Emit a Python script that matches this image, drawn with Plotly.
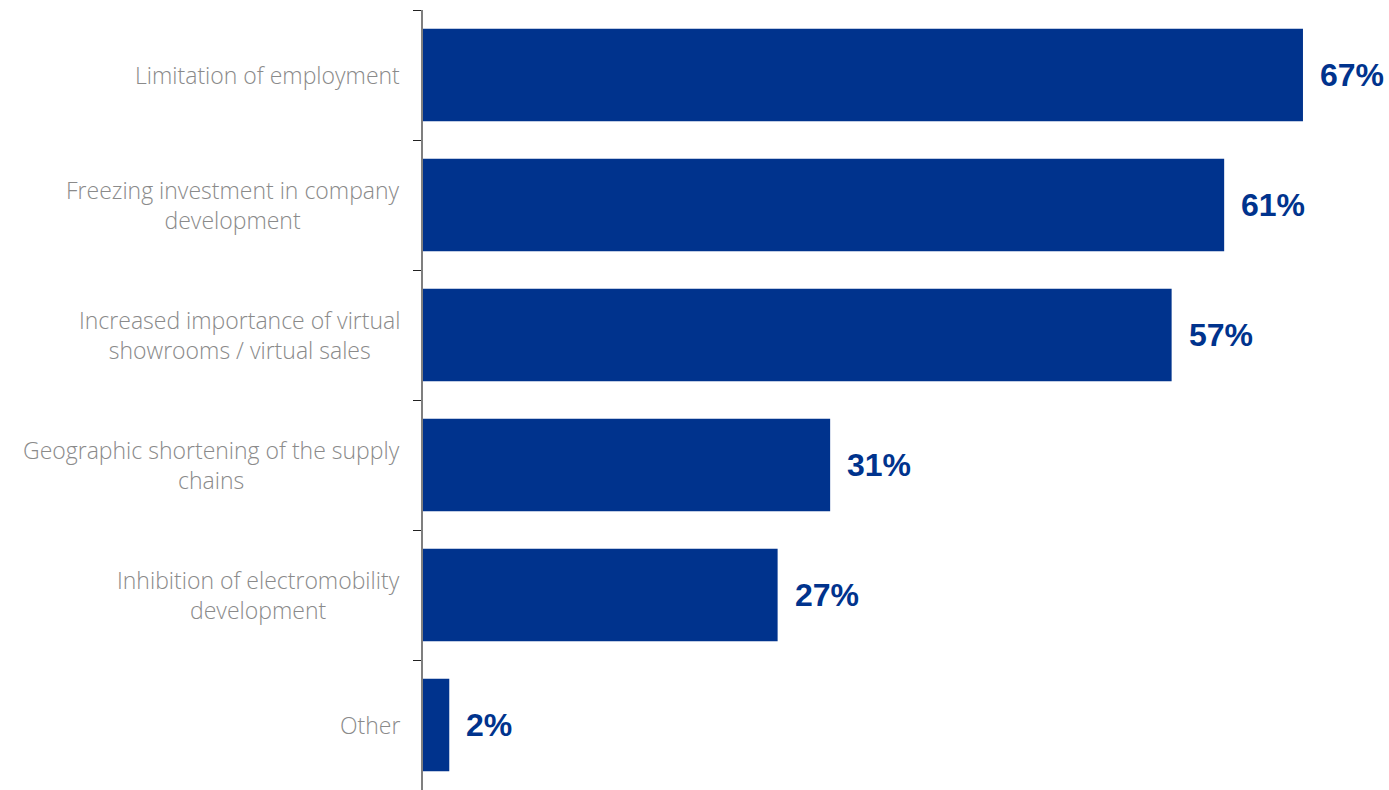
import plotly.graph_objects as go

categories = [
    "Limitation of employment",
    "Freezing investment in company<br>development",
    "Increased importance of virtual<br>showrooms / virtual sales",
    "Geographic shortening of the supply<br>chains",
    "Inhibition of electromobility<br>development",
    "Other",
]
values = [67, 61, 57, 31, 27, 2]
value_labels = ["67%", "61%", "57%", "31%", "27%", "2%"]

BLUE = "#00338D"

fig = go.Figure(go.Bar(
    x=values, y=categories, orientation="h",
    marker=dict(color=BLUE, line=dict(width=0)),
    hoverinfo="skip",
))

annotations = []
for c, v, t in zip(categories, values, value_labels):
    annotations.append(dict(
        x=v, y=c, xref="x", yref="y", text=t, showarrow=False,
        xanchor="left", yanchor="middle", xshift=15,
        font=dict(family="Liberation Sans, Arial, sans-serif", size=32, color=BLUE, weight="bold"),
    ))
    annotations.append(dict(
        x=0, y=c, xref="paper", yref="y", text=c, showarrow=False,
        xanchor="right", yanchor="middle", xshift=-21, align="center",
        font=dict(family="Open Sans, sans-serif", size=23, color="#8a8a8a", weight=300),
    ))

fig.update_layout(
    width=1389, height=790,
    margin=dict(l=423, r=0, t=10, b=0),
    paper_bgcolor="white", plot_bgcolor="white",
    bargap=0.29,
    showlegend=False,
    annotations=annotations,
    xaxis=dict(range=[0, 73.55], visible=False, fixedrange=True),
    yaxis=dict(
        categoryorder="array", categoryarray=categories, autorange="reversed",
        showticklabels=False, tickson="boundaries", ticks="outside",
        ticklen=8, tickwidth=1.2, tickcolor="#222222",
        showline=True, linecolor="#7f7f7f", linewidth=2,
        showgrid=False, zeroline=False, fixedrange=True,
    ),
)

fig.write_html(
    "out.html",
    config={"displayModeBar": False},
    post_script="document.body.style.margin='0';document.body.style.overflow='hidden';",
)
